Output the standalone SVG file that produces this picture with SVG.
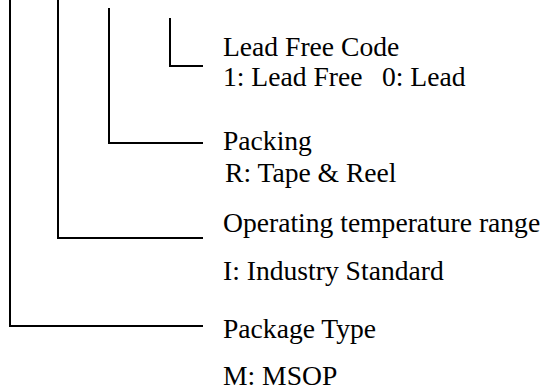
<svg xmlns="http://www.w3.org/2000/svg" width="547" height="391" viewBox="0 0 547 391">
<style>
.c{fill:none;stroke:#000;stroke-width:2}
.t{font-family:"Liberation Serif","Times New Roman",serif;font-size:27.6px;fill:#000}
</style>
<rect width="547" height="391" fill="#fff"/>
<g id="connectors">
<polyline class="c" points="10,0 10,326 203,326"/>
<polyline class="c" points="58,0 58,238 203,238"/>
<polyline class="c" points="109,8 109,143 203,143"/>
<polyline class="c" points="170,18 170,66 203,66"/>
</g>
<g id="lead-free-code">
<text class="t" x="223" y="56">Lead Free Code</text>
<text class="t" x="223" y="86">1: Lead Free<tspan x="382">0: Lead</tspan></text>
</g>
<g id="packing">
<text class="t" x="223" y="150">Packing</text>
<text class="t" x="225" y="182">R: Tape &amp; Reel</text>
</g>
<g id="operating-temperature">
<text class="t" x="223" y="232">Operating temperature range</text>
<text class="t" x="223" y="280">I: Industry Standard</text>
</g>
<g id="package-type">
<text class="t" x="223" y="338">Package Type</text>
<text class="t" x="223" y="385">M: MSOP</text>
</g>
</svg>
